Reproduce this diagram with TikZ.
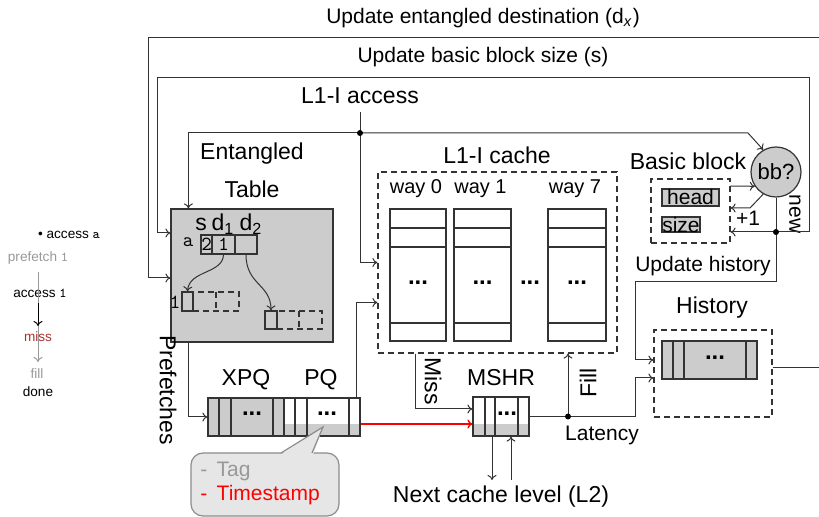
\documentclass[tikz,border=0pt]{standalone}
\usepackage{fontspec}
\setmainfont{Liberation Sans}
\usetikzlibrary{arrows.meta,fit,calc}
\definecolor{lgray}{HTML}{CCCCCC}
\definecolor{callfill}{HTML}{E6E6E6}
\definecolor{missred}{HTML}{A83232}
\definecolor{txtgray}{HTML}{999999}
\tikzset{
 conn/.style={draw=black!80, line width=0.5pt},
 arr/.style={conn, -{To[length=2.5pt,width=4.5pt]}},
 box/.style={draw=black!80, line width=0.6pt, inner sep=0pt},
 dbox/.style={draw=black!80, line width=0.6pt, dash pattern=on 3pt off 2pt, inner sep=0pt},
 dline/.style={draw=black!80, line width=0.6pt, dash pattern=on 3pt off 2pt},
 bline/.style={draw=black!80, line width=0.6pt},
 lbl/.style={inner sep=0pt, font=\fontsize{11.5}{13}\selectfont},
 slbl/.style={inner sep=0pt, font=\fontsize{10.5}{12}\selectfont},
 wlbl/.style={inner sep=0pt, font=\fontsize{10}{12}\selectfont},
 ttl/.style={inner sep=0pt, font=\ttfamily\fontsize{10}{12}\selectfont},
 tinyl/.style={inner sep=0pt, font=\fontsize{6.8}{8}\selectfont},
 dots/.style={inner sep=0pt, font=\bfseries\fontsize{12}{13}\selectfont},
 jdot/.style={circle, fill=black, inner sep=0pt, minimum size=3pt},
}
\begin{document}
\begin{tikzpicture}[x=0.5pt,y=-0.5pt]
\useasboundingbox (0,0) rectangle (819,517);

% ---------- left side notes ----------
\node[tinyl] (la) at (69,235) {\textbullet\ access \texttt{a}};
\node[tinyl, text=txtgray] (lp) at (38,258) {prefetch \texttt{1}};
\node[tinyl] (la1) at (40,293) {access \texttt{1}};
\node[tinyl, text=missred] (lm) at (38,337) {miss};
\node[tinyl, text=txtgray] (lf) at (37,374) {fill};
\node[tinyl] (ld) at (38,392) {done};
\coordinate (lg1) at (38,272); \coordinate (lg2) at (38,362);
\coordinate (lb1) at (38,303); \coordinate (lb2) at (38,326);
\draw[arr, draw=txtgray] (lg1) -- (lg2);
\draw[arr, draw=black] (lb1) -- (lb2);

% ---------- top labels ----------
\node[slbl] (tUE) at (483,18) {Update entangled destination (d\textsubscript{\textit{x}})};
\node[slbl] (tUB) at (483,57) {Update basic block size (s)};

% ---------- Entangled table ----------
\node[box, fill=lgray, fit={(171,209)(333,342)}] (tbl) {};
\node[lbl] (tblA) at (252,154) {Entangled};
\node[lbl] (tblB) at (252,189) {Table};
\node[lbl] (hs) at (201,224) {s};
\node[lbl] (hd1) at (223,224) {d\textsubscript{1}};
\node[lbl] (hd2) at (251,224) {d\textsubscript{2}};
\node[box, fit={(201,235)(212,254)}] (c1) {};
\node[box, fit={(212,235)(235,254)}] (c2) {};
\node[box, fit={(235,235)(257,254)}] (c3) {};
\node[ttl] (c1t) at (c1) {2};
\node[ttl] (c2t) at (c2) {1};
\node[ttl] (ra) at (188,242) {a};
\node[dbox, fit={(193,292)(239,311)}] (m1d) {};
\draw[dline] (216,292) -- (216,311);
\node[box, fill=lgray, fit={(182,292)(193,311)}] (m1) {};
\node[ttl] (m1l) at (175,302) {1};
\node[dbox, fit={(277,311)(322,329)}] (m2d) {};
\draw[dline] (299,311) -- (299,329);
\node[box, fill=lgray, fit={(265,311)(277,329)}] (m2) {};
\draw[arr] (c2.south) .. controls (223,274) and (189,270) .. (m1.north);
\draw[arr] (c3.south) .. controls (246,285) and (271,284) .. (m2.north);
\node[lbl, rotate=-90] (pref) at (168,390) {Prefetches};

% ---------- L1-I cache ----------
\node[dbox, fit={(378,172)(617,353)}] (cache) {};
\node[lbl] (cacheL) at (497,155) {L1-I cache};
\foreach \n/\xa/\xb/\wl in {w0/390/446/way 0, w1/454/511/way 1, w7/548/606/way 7}{
  \node[box, fit={(\xa,209)(\xb,341)}] (\n) {};
  \draw[bline] (\xa,228) -- (\xb,228);
  \draw[bline] (\xa,247) -- (\xb,247);
  \draw[bline] (\xa,323) -- (\xb,323);
  \node[dots] (\n d) at ($(\n)+(0,8)$) {...};
  \node[wlbl] (\n l) at ($(\n.north)+(-2,-20)$) {\wl};
}
\node[dots] (wmid) at (530,283) {...};

% ---------- Basic block ----------
\node[lbl] (bbL) at (688,161) {Basic block};
\node[dbox, fit={(651,179)(730,243)}] (bbb) {};
\node[box, fill=lgray, fit={(662,189)(719,206)}] (head) {};
\node[slbl] (headt) at (head) {head};
\node[box, fill=lgray, fit={(662,217)(700,232)}] (size) {};
\node[slbl] (sizet) at (size) {size};
\node[circle, box, fill=lgray, minimum size=25pt, font=\fontsize{11}{12}\selectfont] (bb) at (776,172) {bb?};
\node[slbl] (uh) at (703,266) {Update history};
\node[slbl] (p1) at (748,218) {+1};
\node[slbl, rotate=-90] (newl) at (795,214) {new};

% ---------- History ----------
\node[lbl] (histL) at (712,308) {History};
\node[dbox, fit={(654,330)(772,417)}] (hist) {};
\node[box, fill=lgray, fit={(662,341)(757,379)}] (hq) {};
\foreach \x in {673,684,746}{\draw[bline] (\x,341) -- (\x,379);}
\node[dots] (hqd) at (715,358) {...};

% ---------- XPQ / PQ ----------
\fill[lgray] (208,398) rectangle (284,436);
\fill[lgray] (284,424) rectangle (360,436);
\node[box, fit={(208,398)(360,436)}] (q) {};
\foreach \x in {219,231,273,284,295,307,349}{\draw[bline] (\x,398) -- (\x,436);}
\node[dots] (xpqd) at (252,414) {...};
\node[dots] (pqd) at (327,414) {...};
\node[lbl] (xpqL) at (246,380) {XPQ};
\node[lbl] (pqL) at (321,380) {PQ};

% ---------- MSHR ----------
\fill[lgray] (473,424) rectangle (529,436);
\node[box, fit={(473,397)(529,436)}] (mshr) {};
\foreach \x in {485,495,518}{\draw[bline] (\x,397) -- (\x,436);}
\node[dots] (mshrd) at (507,414) {...};
\node[lbl] (mshrL) at (501,378) {MSHR};
\node[lbl] (l2L) at (501,497) {Next cache level (L2)};
\node[slbl] (latL) at (602,435) {Latency};
\node[lbl, rotate=-90] (missL) at (433,381) {Miss};
\node[lbl, rotate=90] (fillL) at (588,383) {Fill};

% ---------- callout ----------
\node[fit={(191,453)(339,516)}, inner sep=0pt, rounded corners=6pt, draw=black!45, line width=0.6pt, fill=callfill] (call) {};
\coordinate (ptip) at (323,427);
\fill[callfill] (280,455) -- (ptip) -- (313,455) -- cycle;
\draw[draw=black!45, line width=0.6pt] (281,453) -- (ptip) -- (312,453);
\node[slbl, anchor=west, text=txtgray] (tagt) at (200,471) {-\, Tag};
\node[slbl, anchor=west, text=red] (tst) at (200,495) {-\, Timestamp};

% ---------- connectors ----------
% L1-I access
\node[lbl, inner ysep=4pt] (acc) at (360,96) {L1-I access};
\coordinate (j0) at (360,133);
\draw[conn] (acc.south) -- (j0);
\draw[arr] (j0) |- (cache.west);
\draw[arr] (j0) -| ($(tbl.north west)+(18,0)$);
\coordinate (jb) at (748,133);
\draw[arr] (j0) -- (jb) -- (bb.120);
\node[jdot] (j0d) at (j0) {};

% PQ -> cache
\draw[arr] ($(q.north east)+(-4,0)$) |- ($(cache.west)+(0,40)$);
% table -> XPQ
\draw[arr] ($(tbl.south west)+(18,0)$) |- (q.west);
% PQ -> MSHR (red)
\draw[arr, draw=red, line width=0.7pt] ($(q.east)+(0,7)$) -- ($(mshr.west)+(0,7.5)$);
% Miss
\draw[arr] ($(cache.south west)+(38,0)$) |- ($(mshr.west)+(0,-7.5)$);
% MSHR -> latency / fill
\coordinate (jf) at (568,416.5);
\draw[conn] (mshr.east) -- (jf);
\draw[arr] (jf) -- (635,416.5) |- ($(hist.west)+(0,4.5)$);
\draw[arr] (jf) -- (jf |- cache.south);
\node[jdot] (jfd) at (jf) {};
% L2
\coordinate (l2a) at (492,480); \coordinate (l2b) at (511,480);
\draw[arr] ($(mshr.south)+(-9,0)$) -- (l2a);
\draw[arr] (l2b) -- ($(mshr.south)+(10,0)$);

% basic block
\draw[arr] ($(bbb.east)+(0,-25)$) -- (bb.214);
\coordinate (pb) at (750,208);
\draw[arr] (bb.240) -- (pb) -- ($(bbb.east)+(0,-3)$);
\coordinate (j1) at (776,232);
\draw[conn] (bb.south) -- (j1);
\draw[arr] (j1) -- (j1 -| bbb.east);
\coordinate (hu) at (635,282);
\draw[arr] (j1) |- (hu) |- ($(hist.west)+(0,-13.5)$);
\coordinate (ib1) at (809,232);
\coordinate (ib2) at (157,78);
\draw[arr] (j1) -- (ib1) |- (ib2) |- ($(tbl.west)+(0,-42.5)$);
\node[jdot] (j1d) at (j1) {};

% outer loop
\coordinate (eR) at (819,38);
\coordinate (eL) at (148,38);
\draw[arr] (eR) -- (eL) |- ($(tbl.west)+(0,2.5)$);
\coordinate (hR) at (819,368);
\draw[conn] ($(hist.east)+(0,-5.5)$) -- (hR);
\end{tikzpicture}
\end{document}
